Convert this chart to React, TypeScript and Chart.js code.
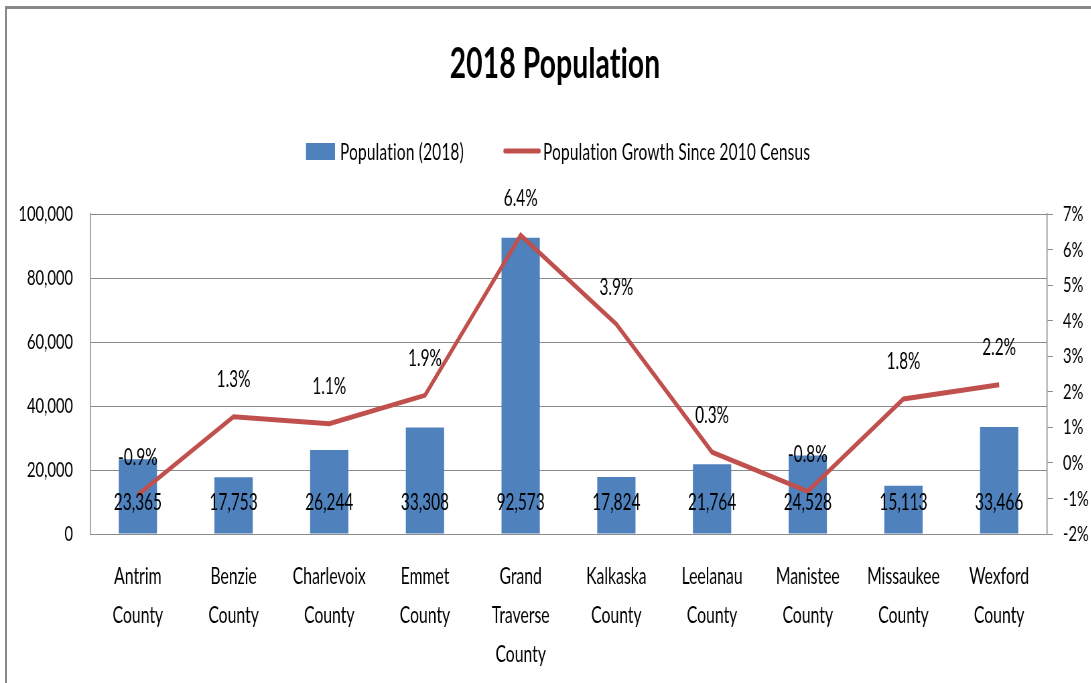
import React, { useEffect, useRef } from "react";
import { Chart, registerables } from "chart.js";

Chart.register(...registerables);

// ---- data ----
const categories: string[][] = [
  ["Antrim", "County"],
  ["Benzie", "County"],
  ["Charlevoix", "County"],
  ["Emmet", "County"],
  ["Grand", "Traverse", "County"],
  ["Kalkaska", "County"],
  ["Leelanau", "County"],
  ["Manistee", "County"],
  ["Missaukee", "County"],
  ["Wexford", "County"],
];
const population2018 = [23365, 17753, 26244, 33308, 92573, 17824, 21764, 24528, 15113, 33466];
const growthSince2010 = [-0.9, 1.3, 1.1, 1.9, 6.4, 3.9, 0.3, -0.8, 1.8, 2.2];
const populationAxis = { min: 0, max: 100000, step: 20000 };
const growthAxis = { min: -2, max: 7, step: 1 };
const titleText = "2018 Population";
const seriesNames = ["Population (2018)", "Population Growth Since 2010 Census"];

// ---- styling ----
const S = 0.67; // horizontal squeeze of the whole picture
const W = Math.round(1091 / S);
const H = 683;
const X = (px: number) => px / S;
const FONT = "Lato, 'Liberation Sans', sans-serif";
const BAR_COLOR = "#4F81BD";
const LINE_COLOR = "#C0504D";
const GRID = "#8a8a8a";

const noLig = (ctx: any) => {
  try {
    ctx.letterSpacing = "0.3px";
  } catch (e) {}
};

const decor = {
  id: "decor",
  afterDatasetsDraw(chart: any) {
    const ctx = chart.ctx as CanvasRenderingContext2D;
    ctx.save();
    ctx.fillStyle = "#000";
    ctx.textAlign = "center";
    ctx.textBaseline = "middle";
    ctx.font = `23px ${FONT}`;
    const y0 = chart.scales.y.getPixelForValue(0);
    chart.getDatasetMeta(0).data.forEach((el: any, i: number) => {
      ctx.fillText(population2018[i].toLocaleString("en-US"), el.x, y0 - 31);
    });
    chart.getDatasetMeta(1).data.forEach((el: any, i: number) => {
      ctx.fillText(growthSince2010[i].toFixed(1) + "%", el.x, el.y - 37);
    });
    ctx.restore();
  },
  afterDraw(chart: any) {
    const ctx = chart.ctx as CanvasRenderingContext2D;
    ctx.save();
    noLig(ctx);
    // title
    ctx.fillStyle = "#000";
    ctx.textAlign = "center";
    ctx.textBaseline = "alphabetic";
    ctx.font = `bold 42px ${FONT}`;
    ctx.fillText(titleText, X(555), 78);
    // legend
    ctx.fillStyle = BAR_COLOR;
    ctx.fillRect(X(306), 143, X(335) - X(306), 17);
    ctx.fillStyle = "#000";
    ctx.textAlign = "left";
    ctx.font = `23px ${FONT}`;
    ctx.fillText(seriesNames[0], X(340), 160);
    ctx.strokeStyle = LINE_COLOR;
    ctx.lineWidth = 5;
    ctx.lineCap = "round";
    ctx.beginPath();
    ctx.moveTo(X(505), 151);
    ctx.lineTo(X(539), 151);
    ctx.stroke();
    ctx.fillText(seriesNames[1], X(543), 160);
    ctx.restore();
  },
};

export default function App() {
  const ref = useRef<HTMLCanvasElement>(null);
  useEffect(() => {
    const chart = new Chart(ref.current as HTMLCanvasElement, {
      type: "bar",
      data: {
        labels: categories,
        datasets: [
          {
            type: "bar",
            label: seriesNames[0],
            data: population2018,
            backgroundColor: BAR_COLOR,
            yAxisID: "y",
            order: 2,
            barPercentage: 0.4,
            categoryPercentage: 1,
          },
          {
            type: "line",
            label: seriesNames[1],
            data: growthSince2010,
            borderColor: LINE_COLOR,
            backgroundColor: LINE_COLOR,
            borderWidth: 5,
            pointRadius: 0,
            tension: 0,
            yAxisID: "y1",
            order: 1,
          },
        ],
      } as any,
      options: {
        responsive: false,
        maintainAspectRatio: false,
        animation: false,
        devicePixelRatio: 1,
        layout: { padding: { top: 214, left: 0, right: 0, bottom: 0 } },
        plugins: {
          legend: { display: false },
          title: { display: false },
          tooltip: { enabled: false },
        },
        scales: {
          x: {
            afterFit: (s: any) => {
              s.height = H - 534;
            },
            grid: { display: false, drawTicks: false },
            border: { display: true, color: GRID, width: 1 },
            ticks: {
              color: "#000",
              padding: 23,
              maxRotation: 0,
              autoSkip: false,
              font: { family: FONT, size: 23.5, lineHeight: 1.66 },
            },
          },
          y: {
            position: "left",
            min: populationAxis.min,
            max: populationAxis.max,
            afterFit: (s: any) => {
              s.width = X(90);
            },
            grid: { color: GRID, drawTicks: false, lineWidth: 1 },
            border: { display: true, color: GRID, width: 1.5 },
            ticks: {
              stepSize: populationAxis.step,
              color: "#000",
              padding: X(17),
              font: { family: FONT, size: 22 },
              callback: (v: any) => Number(v).toLocaleString("en-US"),
            },
          },
          y1: {
            position: "right",
            min: growthAxis.min,
            max: growthAxis.max,
            afterFit: (s: any) => {
              s.width = W - X(1047);
            },
            grid: { color: GRID, drawOnChartArea: false, drawTicks: true, tickLength: X(6), lineWidth: 1 },
            border: { display: true, color: GRID, width: 1.5 },
            ticks: {
              stepSize: growthAxis.step,
              color: "#000",
              padding: X(10),
              font: { family: FONT, size: 22 },
              callback: (v: any) => v + "%",
            },
          },
        },
      } as any,
      plugins: [decor],
    });
    return () => chart.destroy();
  }, []);

  return (
    <div
      style={{
        position: "fixed",
        left: 0,
        top: 0,
        width: 1091,
        height: H,
        overflow: "hidden",
        background: "#fff",
      }}
    >
      <div
        style={{
          position: "absolute",
          left: 5,
          top: 6,
          width: 1300,
          height: 900,
          borderTop: "3px solid #898989",
          borderLeft: "2px solid #898989",
        }}
      />
      <canvas
        ref={ref}
        width={W}
        height={H}
        style={{
          position: "absolute",
          left: 0,
          top: 0,
          width: W,
          height: H,
          transform: `scaleX(${S})`,
          transformOrigin: "0 0",
        }}
      />
    </div>
  );
}
